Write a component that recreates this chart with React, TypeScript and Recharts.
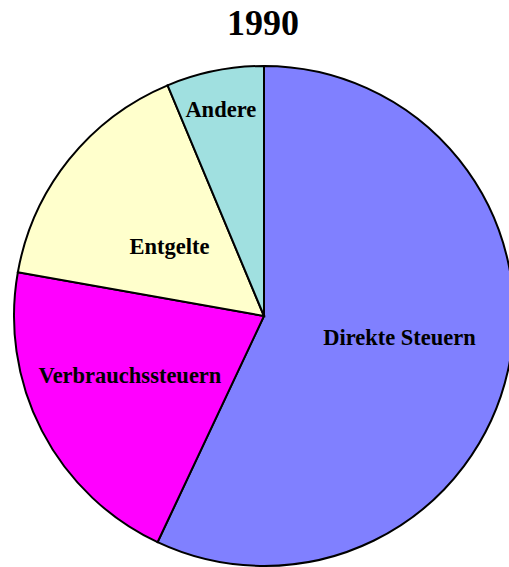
import React from 'react';
import { PieChart, Pie, Cell } from 'recharts';

const categories = ['Direkte Steuern', 'Verbrauchssteuern', 'Entgelte', 'Andere'];
const shares = [57.0, 20.8, 15.9, 6.3];
const colors = ['#8080FF', '#FF00FF', '#FFFFCC', '#A0E0E0'];
// label placement: fraction of radius, and degrees turned off the slice's middle
const labelRadius = [0.549, 0.586, 0.47, 0.842];
const labelTurn = [3.4, -3.6, 2.2, 0.5];

const data = categories.map((name, i) => ({ name, value: shares[i] }));

const RADIAN = Math.PI / 180;

function renderLabel(props: any) {
  const { cx, cy, midAngle, outerRadius, index, name } = props;
  const r = outerRadius * labelRadius[index];
  const a = (midAngle + labelTurn[index]) * RADIAN;
  const x = cx + r * Math.cos(-a);
  const y = cy + r * Math.sin(-a);
  return (
    <text
      x={x}
      y={y}
      textAnchor="middle"
      dominantBaseline="central"
      fill="#000"
      fontFamily="'Liberation Serif', 'Times New Roman', serif"
      fontWeight="bold"
      fontSize={22.5}
    >
      {name}
    </text>
  );
}

export default function App() {
  return (
    <div style={{ position: 'absolute', left: 0, top: 0, width: 509, height: 567, background: '#fff' }}>
      <div
        style={{
          position: 'absolute',
          left: 0,
          top: 2,
          width: 526,
          textAlign: 'center',
          fontFamily: "'Liberation Serif', 'Times New Roman', serif",
          fontWeight: 'bold',
          fontSize: 36,
          lineHeight: '42px',
        }}
      >
        1990
      </div>
      <PieChart
        width={509}
        height={567}
        margin={{ top: 0, right: 0, bottom: 0, left: 0 }}
        style={{ position: 'absolute', left: 0, top: 0 }}
      >
        <Pie
          data={data}
          dataKey="value"
          nameKey="name"
          cx={264}
          cy={316}
          outerRadius={250}
          startAngle={90}
          endAngle={-270}
          stroke="#000"
          strokeWidth={2}
          label={renderLabel}
          labelLine={false}
          isAnimationActive={false}
        >
          {data.map((d, i) => (
            <Cell key={d.name} fill={colors[i]} />
          ))}
        </Pie>
      </PieChart>
    </div>
  );
}
